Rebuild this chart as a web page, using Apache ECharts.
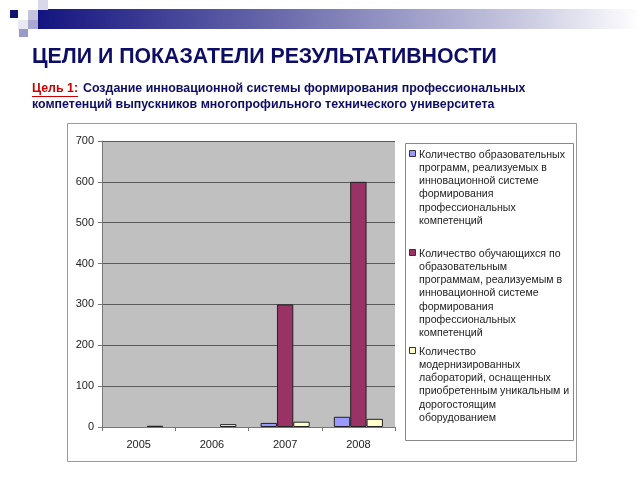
<!DOCTYPE html>
<html><head><meta charset="utf-8">
<script src="https://cdn.jsdelivr.net/npm/echarts@6/dist/echarts.min.js"></script>
<style>html,body{margin:0;padding:0;background:#fff}#c{width:640px;height:480px}</style>
</head><body><div id="c"></div>
<script>
const categories = ['2005', '2006', '2007', '2008'];
const programs = [null, null, 10, 25];
const students = [null, null, 300, 600];
const labs = [3, 7, 13, 20];
const seriesNames = [
  'Количество образовательных\nпрограмм, реализуемых в\nинновационной системе\nформирования\nпрофессиональных\nкомпетенций',
  'Количество обучающихся по\nобразовательным\nпрограммам, реализуемым в\nинновационной системе\nформирования\nпрофессиональных\nкомпетенций',
  'Количество\nмодернизированных\nлабораторий, оснащенных\nприобретенным уникальным и\nдорогостоящим\nоборудованием'
];
const seriesColors = ['#9999ff', '#993366', '#ffffcc'];
const titleText = 'ЦЕЛИ И ПОКАЗАТЕЛИ РЕЗУЛЬТАТИВНОСТИ';
const goalLabel = 'Цель 1:';
const goalLine1 = 'Создание инновационной системы формирования профессиональных';
const goalLine2 = 'компетенций выпускников многопрофильного технического университета';

const chart = echarts.init(document.getElementById('c'), null, {renderer: 'canvas'});
const FONT = 'Liberation Sans, Arial, sans-serif';

// legend drawn as graphic (icon aligned with first line)
const legendGraphics = [];
const legendTops = [148, 247, 345];
seriesNames.forEach((n, i) => {
  legendGraphics.push({type: 'rect', shape: {x: 409.5, y: legendTops[i] + 2.5, width: 6, height: 6},
    style: {fill: seriesColors[i], stroke: '#333', lineWidth: 1}});
  legendGraphics.push({type: 'text', x: 419, y: legendTops[i],
    style: {text: n, font: '10.6px ' + FONT, fill: '#222', lineHeight: 13.3}});
});

const option = {
  animation: false,
  backgroundColor: '#fff',
  grid: {left: 102, right: 245, top: 141, bottom: 53, show: true, backgroundColor: '#c0c0c0', borderWidth: 0},
  xAxis: {
    type: 'category', data: categories,
    axisLine: {lineStyle: {color: '#777', width: 1}},
    axisTick: {show: true, length: 4, lineStyle: {color: '#777'}},
    axisLabel: {fontSize: 11, fontFamily: FONT, color: '#222', margin: 12}
  },
  yAxis: {
    type: 'value', min: 0, max: 700, interval: 100,
    axisLine: {show: true, lineStyle: {color: '#777'}},
    axisTick: {show: true, length: 4, lineStyle: {color: '#777'}},
    axisLabel: {fontSize: 11, fontFamily: FONT, color: '#222', margin: 8},
    splitLine: {lineStyle: {color: '#5a5a5a', width: 1}}
  },
  series: [programs, students, labs].map((d, i) => ({
    type: 'bar', name: seriesNames[i], data: d,
    barGap: '0%', barCategoryGap: '33%',
    itemStyle: {color: seriesColors[i], borderColor: '#222', borderWidth: 1}
  })),
  graphic: [
    // decorative header
    {type: 'rect', shape: {x: 38, y: 9, width: 602, height: 20},
      style: {fill: new echarts.graphic.LinearGradient(0, 0, 1, 0, [
        {offset: 0, color: '#141480'}, {offset: 0.4, color: '#6a6aac'}, {offset: 0.8, color: '#c8c8e0'}, {offset: 1, color: '#ffffff'}])}},
    {type: 'rect', shape: {x: 38, y: 0, width: 10, height: 10}, style: {fill: '#d8d8e8'}},
    {type: 'rect', shape: {x: 28, y: 10, width: 10, height: 10}, style: {fill: '#c4c4dc'}},
    {type: 'rect', shape: {x: 18, y: 20, width: 10, height: 10}, style: {fill: '#e8e8f2'}},
    {type: 'rect', shape: {x: 28, y: 20, width: 10, height: 9}, style: {fill: '#a8a8d0'}},
    {type: 'rect', shape: {x: 19, y: 29, width: 9, height: 8}, style: {fill: '#9a9ac8'}},
    {type: 'rect', shape: {x: 10, y: 10, width: 8, height: 8}, style: {fill: '#141470'}},
    // title texts
    {type: 'text', x: 32, y: 57, style: {text: titleText, font: 'bold 21.3px ' + FONT, fill: '#0d0d66', verticalAlign: 'middle'}},
    {type: 'text', x: 32, y: 89, style: {text: goalLabel, font: 'bold 12.4px ' + FONT, fill: '#cc0000', verticalAlign: 'middle'}},
    {type: 'line', shape: {x1: 32, y1: 96.5, x2: 78, y2: 96.5}, style: {stroke: '#cc0000', lineWidth: 1}},
    {type: 'text', x: 83, y: 89, style: {text: goalLine1, font: 'bold 12.4px ' + FONT, fill: '#0d0d66', verticalAlign: 'middle'}},
    {type: 'text', x: 32, y: 105, style: {text: goalLine2, font: 'bold 12.4px ' + FONT, fill: '#0d0d66', verticalAlign: 'middle'}},
    // frames
    {type: 'rect', z: -10, shape: {x: 67.5, y: 123.5, width: 509, height: 338}, style: {fill: 'none', stroke: '#9a9a9a', lineWidth: 1}},
    {type: 'rect', shape: {x: 405.5, y: 143.5, width: 168, height: 297}, style: {fill: '#fff', stroke: '#888', lineWidth: 1}},
    ...legendGraphics
  ]
};
chart.setOption(option);
</script></body></html>
